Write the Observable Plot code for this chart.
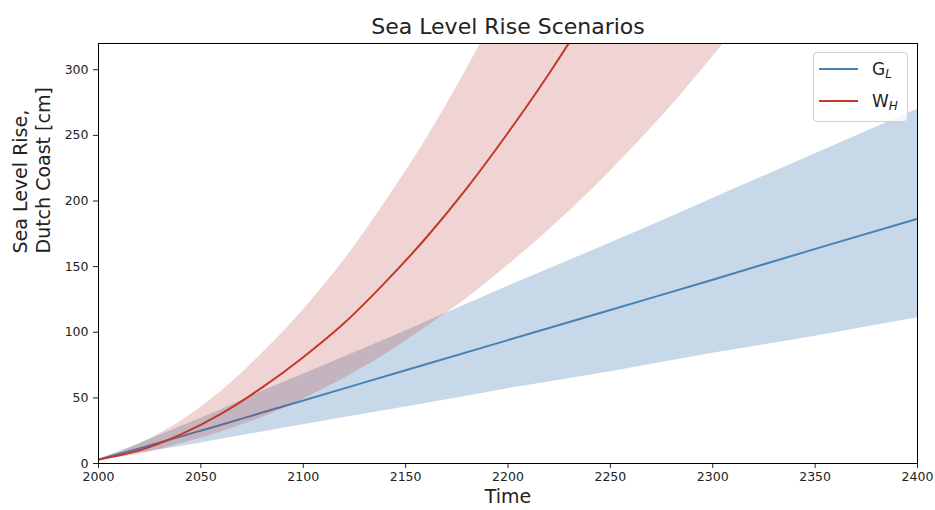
<!DOCTYPE html>
<html>
<head>
<meta charset="utf-8">
<script src="https://cdn.jsdelivr.net/npm/d3@7"></script>
<script src="https://cdn.jsdelivr.net/npm/@observablehq/plot@0.6"></script>
<style>
  body { margin: 0; background: #fff; font-family: "DejaVu Sans", sans-serif; }
  #wrap { position: relative; width: 935px; height: 510px; }
  #legend { position: absolute; left: 813px; top: 52px; width: 95px; height: 70px; box-sizing: border-box;
            border: 1px solid #d0d0d0; border-radius: 4px; background: rgba(255,255,255,0.8); }
  .entry { position: absolute; left: 0; width: 100%; height: 24px; }
  .entry .sw { position: absolute; left: 5px; width: 39px; height: 2px; top: 11px; }
  .entry .lab { position: absolute; left: 58px; top: 0; font-size: 17px; line-height: 24px; color: #222; }
  .entry sub { font-size: 12px; font-style: italic; vertical-align: -3px; }
</style>
</head>
<body>
<div id="wrap">
  <div id="chart"></div>
  <div id="legend">
    <div class="entry" style="top:4px"><div class="sw" style="background:#4682b4"></div><div class="lab">G<sub>L</sub></div></div>
    <div class="entry" style="top:36px"><div class="sw" style="background:#c0392b"></div><div class="lab">W<sub>H</sub></div></div>
  </div>
</div>
<script>
// G_L scenario (low)
const blueYears = [2000, 2020, 2040, 2060, 2080, 2100, 2150, 2200, 2250, 2300, 2350, 2400];
const blueMid   = [3, 11.5, 20.5, 29.5, 38.8, 48, 71, 94, 117, 140, 163.5, 186.5];
const blueHigh  = [3, 15, 28, 41, 55, 68, 101, 135, 168, 202, 236, 270];
const blueLow   = [3, 8, 13, 18.5, 24, 29.5, 43, 57, 70, 84, 97, 111];

// W_H scenario (high)
const redYears = [2000, 2020, 2040, 2060, 2080, 2100, 2120, 2140, 2160, 2180, 2200, 2220, 2240, 2260, 2280, 2300, 2320];
const redMid   = [3, 10, 22, 38, 58, 81, 107, 138, 172, 210, 252, 297, 346, 400, 455, 515, 580];
const redHigh  = [3, 15, 32, 55, 84, 117, 155, 199, 247, 301, 360, 424, 494, 570, 650, 735, 825];
const redLow   = [3, 7, 15, 24, 35, 49, 65, 83, 104, 126, 151, 178, 207, 239, 273, 310, 348];

const xTicks = [2000, 2050, 2100, 2150, 2200, 2250, 2300, 2350, 2400];
const yTicks = [0, 50, 100, 150, 200, 250, 300];

const blue = blueYears.map((year, i) => ({year, mid: blueMid[i], hi: blueHigh[i], lo: blueLow[i]}));
const red = redYears.map((year, i) => ({year, mid: redMid[i], hi: redHigh[i], lo: redLow[i]}));

const chart = Plot.plot({
  width: 935,
  height: 510,
  marginLeft: 98,
  marginRight: 18,
  marginTop: 43,
  marginBottom: 47,
  style: { fontFamily: "DejaVu Sans, sans-serif", fontSize: "12.5px", color: "#222", background: "#fff" },
  x: { domain: [2000, 2400] },
  y: { domain: [0, 320] },
  marks: [
    Plot.areaY(blue, {x: "year", y1: "lo", y2: "hi", fill: "#4682b4", fillOpacity: 0.3, curve: "monotone-x", clip: true}),
    Plot.lineY(blue, {x: "year", y: "mid", stroke: "#4682b4", strokeWidth: 2, curve: "monotone-x", clip: true}),
    Plot.areaY(red, {x: "year", y1: "lo", y2: "hi", fill: "#b22222", fillOpacity: 0.2, curve: "monotone-x", clip: true}),
    Plot.lineY(red, {x: "year", y: "mid", stroke: "#c0392b", strokeWidth: 2, curve: "monotone-x", clip: true}),
    Plot.axisX({ticks: xTicks, tickFormat: "d", tickSize: 5, tickPadding: 4, label: null}),
    Plot.axisY({ticks: yTicks, tickFormat: "d", tickSize: 5, tickPadding: 5, label: null}),
    Plot.frame({stroke: "#000", strokeWidth: 1}),
    Plot.text(["Time"], {text: d => d, frameAnchor: "bottom", dy: 39, fontSize: 19, fill: "#222"}),
    Plot.text(["Sea Level Rise,\nDutch Coast [cm]"], {text: d => d, frameAnchor: "left", rotate: -90, dx: -67, fontSize: 19, lineHeight: 1.2, fill: "#222"}),
    Plot.text(["Sea Level Rise Scenarios"], {text: d => d, frameAnchor: "top", dy: -25, fontSize: 22, fill: "#222"})
  ]
});
document.getElementById("chart").appendChild(chart);
</script>
</body>
</html>
